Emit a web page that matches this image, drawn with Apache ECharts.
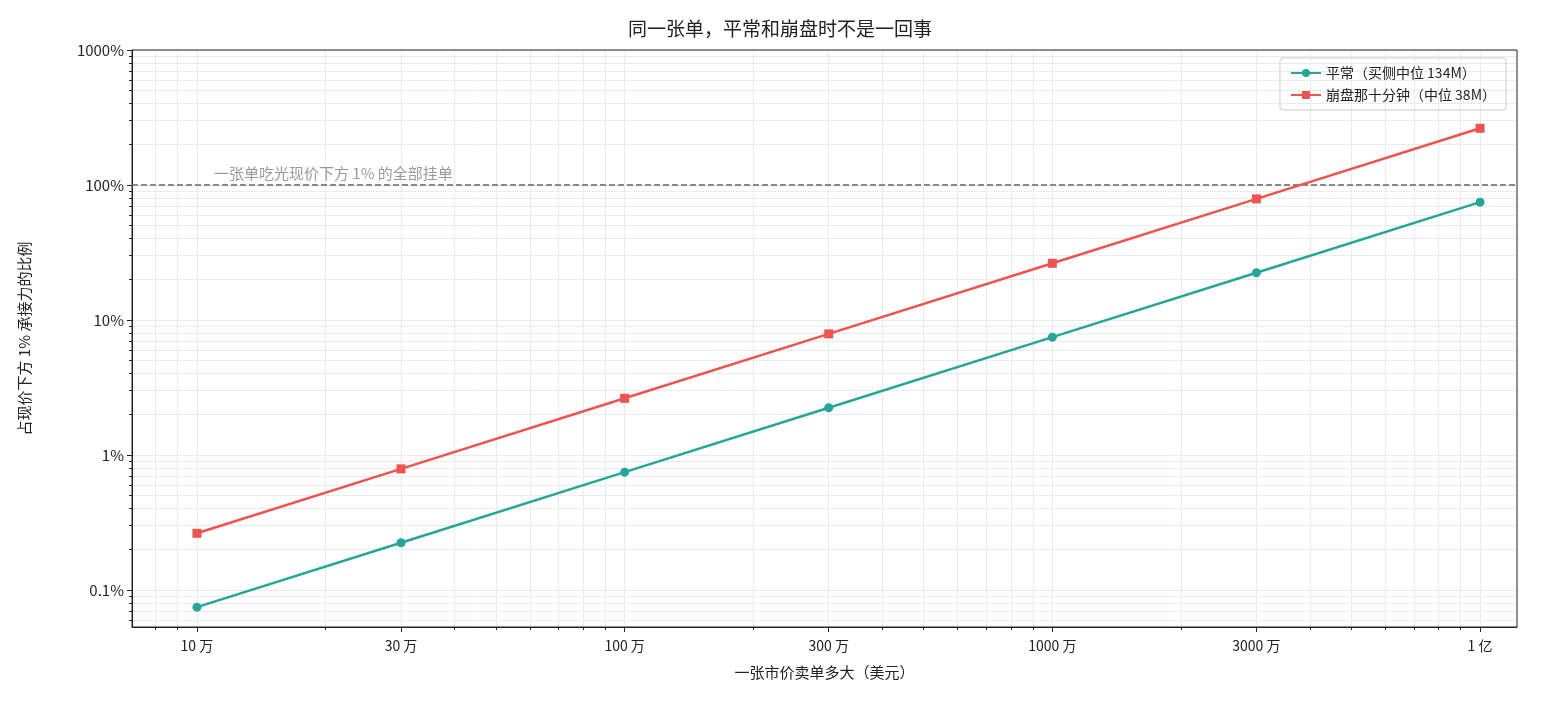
<!DOCTYPE html>
<html><head><meta charset="utf-8">
<script src="https://cdn.jsdelivr.net/npm/echarts@6/dist/echarts.min.js"></script>
<style>html,body{margin:0;background:#fff}#c{width:1560px;height:705px}</style>
</head><body><div id="c"></div>
<script>
const orderSizes = [1e5, 3e5, 1e6, 3e6, 1e7, 3e7, 1e8];
const xTickLabels = ['10 万', '30 万', '100 万', '300 万', '1000 万', '3000 万', '1 亿'];
const normalPct = [0.0746, 0.224, 0.746, 2.24, 7.46, 22.4, 74.6];
const crashPct = [0.263, 0.789, 2.63, 7.89, 26.3, 78.9, 263];
const yTicks = [0.1, 1, 10, 100, 1000];
const yTickLabels = ['0.1%', '1%', '10%', '100%', '1000%'];

const FONT = '"Noto Sans CJK SC", "Noto Sans", sans-serif';
const xMin = 7.05e4, xMax = 1.22e8, yMin = 0.0532, yMax = 1000;
function minors(lo, hi) {
  const out = [];
  for (let e = -3; e <= 9; e++) for (let m = 1; m <= 9; m++) {
    const v = m * Math.pow(10, e);
    if (v >= lo && v <= hi) out.push(+v.toPrecision(3));
  }
  return out;
}
const xMinor = minors(xMin, xMax), yMinor = minors(yMin, yMax);

const chart = echarts.init(document.getElementById('c'));
chart.setOption({
  animation: false,
  title: { text: '同一张单，平常和崩盘时不是一回事', left: 'center', top: 14,
    textStyle: { fontFamily: FONT, fontSize: 19, fontWeight: 'normal', color: '#222' } },
  legend: { right: 54, top: 58, orient: 'vertical', itemWidth: 30, itemHeight: 10, itemGap: 8,
    borderColor: '#ccc', borderWidth: 1, borderRadius: 3, padding: [8, 10],
    textStyle: { fontFamily: FONT, fontSize: 14, color: '#222' },
    data: ['平常（买侧中位 134M）', '崩盘那十分钟（中位 38M）'] },
  grid: { left: 132, right: 43, top: 50, bottom: 78 },
  xAxis: [
    { type: 'log', min: xMin, max: xMax, name: '一张市价卖单多大（美元）', nameLocation: 'middle', nameGap: 38,
      nameTextStyle: { fontFamily: FONT, fontSize: 15, color: '#222' },
      axisLine: { onZero: false, lineStyle: { color: '#222' } },
      axisTick: { customValues: orderSizes, length: 5, lineStyle: { color: '#222' } },
      axisLabel: { customValues: orderSizes, fontFamily: FONT, fontSize: 14, color: '#222', margin: 12,
        formatter: v => { const i = orderSizes.findIndex(s => Math.abs(s - v) / s < 1e-6); return i >= 0 ? xTickLabels[i] : ''; } },
      splitLine: { show: true, lineStyle: { color: '#d4d4d4', width: 1 } } },
    { type: 'log', min: xMin, max: xMax, position: 'bottom',
      axisLine: { show: false }, axisLabel: { show: false },
      axisTick: { customValues: xMinor, length: 3, lineStyle: { color: '#222' } },
      splitLine: { show: true, lineStyle: { color: '#ebebeb', width: 1 } } }
  ],
  yAxis: [
    { type: 'log', min: yMin, max: yMax, name: '占现价下方 1% 承接力的比例', nameLocation: 'middle', nameGap: 100,
      nameTextStyle: { fontFamily: FONT, fontSize: 15, color: '#222' },
      axisLine: { show: true, lineStyle: { color: '#222' } },
      axisTick: { customValues: yTicks, length: 5, lineStyle: { color: '#222' } },
      axisLabel: { customValues: yTicks, fontFamily: FONT, fontSize: 15, color: '#222',
        formatter: v => { const i = yTicks.findIndex(s => Math.abs(s - v) / s < 1e-6); return i >= 0 ? yTickLabels[i] : ''; } },
      splitLine: { show: true, lineStyle: { color: '#d4d4d4' } } },
    { type: 'log', min: yMin, max: yMax, position: 'left',
      axisLine: { show: false }, axisLabel: { show: false },
      axisTick: { customValues: yMinor, length: 3, lineStyle: { color: '#222' } },
      splitLine: { show: true, lineStyle: { color: '#ebebeb' } } }
  ],
  series: [
    { name: '平常（买侧中位 134M）', type: 'line', symbol: 'circle', symbolSize: 9,
      data: orderSizes.map((x, i) => [x, normalPct[i]]),
      itemStyle: { color: '#26a69a' }, lineStyle: { color: '#26a69a', width: 2.5 }, z: 5,
      markLine: { silent: true, symbol: 'none', data: [{ yAxis: 100 }],
        lineStyle: { color: '#888', type: [6, 3], width: 2 },
        label: { show: true, position: 'insideStartTop', distance: [82, 4], formatter: '一张单吃光现价下方 1% 的全部挂单',
          fontFamily: FONT, fontSize: 15, color: '#999' } } },
    { name: '崩盘那十分钟（中位 38M）', type: 'line', symbol: 'rect', symbolSize: 9,
      data: orderSizes.map((x, i) => [x, crashPct[i]]),
      itemStyle: { color: '#ef5350' }, lineStyle: { color: '#ef5350', width: 2.5 }, z: 5 }
  ],
  graphic: [{ type: 'rect', shape: { x: 132, y: 50, width: 1385, height: 577 }, silent: true,
    style: { fill: 'none', stroke: '#222', lineWidth: 1 }, z: 100 }]
});
</script></body></html>
